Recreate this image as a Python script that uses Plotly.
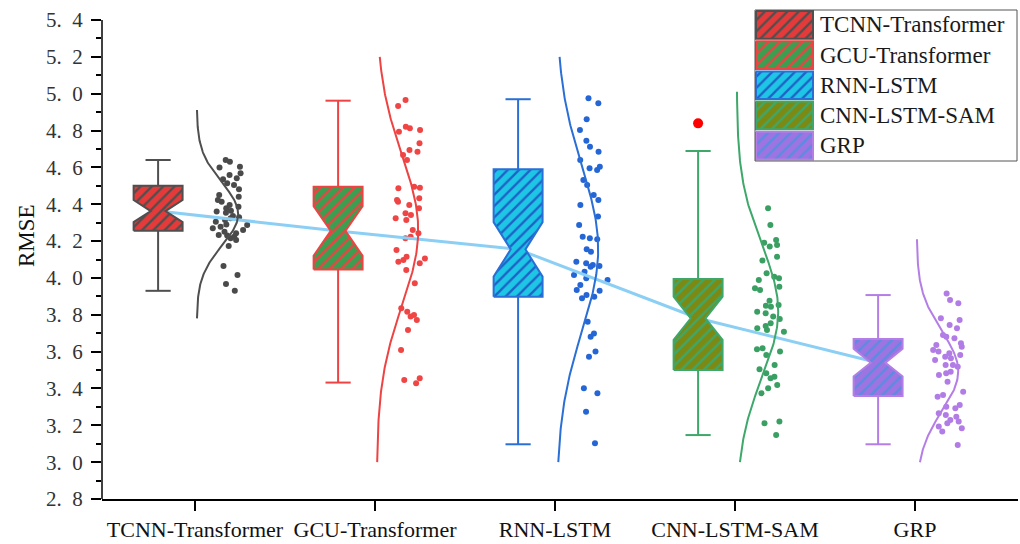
import numpy as np
import plotly.graph_objects as go

# ---------------- data ----------------
models = ["TCNN-Transformer", "GCU-Transformer", "RNN-LSTM", "CNN-LSTM-SAM", "GRP"]
positions = [1, 2, 3, 4, 5]

# box statistics
q1 = [4.256, 4.046, 3.898, 3.500, 3.359]
median = [4.363, 4.255, 4.155, 3.781, 3.540]
q3 = [4.500, 4.495, 4.590, 3.994, 3.668]
lower_whisker = [3.930, 3.432, 3.097, 3.147, 3.097]
upper_whisker = [4.640, 4.962, 4.970, 4.689, 3.907]
notch_half = [0.060, 0.135, 0.148, 0.117, 0.075]
outliers = [[], [], [], [4.839], []]

# individual RMSE samples
tcnn_rmse = [4.640, 4.631, 4.604, 4.600, 4.568, 4.559, 4.541, 4.535, 4.514, 4.504,
             4.481, 4.450, 4.440, 4.423, 4.414, 4.396, 4.387, 4.378, 4.365, 4.360,
             4.354, 4.336, 4.330, 4.324, 4.314, 4.305, 4.290, 4.287, 4.278, 4.269,
             4.260, 4.251, 4.242, 4.233, 4.230, 4.224, 4.215, 4.206, 4.173, 4.065,
             4.016, 3.967, 3.931]
gcu_rmse = [4.966, 4.933, 4.821, 4.812, 4.803, 4.794, 4.731, 4.694, 4.685, 4.667,
            4.640, 4.495, 4.487, 4.490, 4.432, 4.423, 4.414, 4.396, 4.378, 4.351,
            4.342, 4.324, 4.314, 4.260, 4.242, 4.224, 4.215, 4.152, 4.115, 4.106,
            4.097, 4.088, 4.079, 4.043, 3.971, 3.835, 3.817, 3.799, 3.790, 3.772,
            3.717, 3.609, 3.455, 3.446, 3.428]
rnn_rmse = [4.975, 4.948, 4.861, 4.803, 4.745, 4.712, 4.685, 4.640, 4.604, 4.595,
            4.586, 4.532, 4.504, 4.450, 4.423, 4.396, 4.333, 4.287, 4.224, 4.215,
            4.210, 4.155, 4.142, 4.088, 4.079, 4.070, 4.065, 4.061, 4.034, 4.016,
            3.998, 3.989, 3.962, 3.934, 3.930, 3.907, 3.898, 3.889, 3.762, 3.699,
            3.681, 3.600, 3.572, 3.401, 3.374, 3.274, 3.102]
cnn_rmse = [4.839, 4.691, 4.378, 4.287, 4.206, 4.191, 4.179, 4.170, 4.115, 4.094,
            4.025, 4.007, 3.998, 3.989, 3.952, 3.944, 3.934, 3.876, 3.853, 3.849,
            3.844, 3.817, 3.808, 3.790, 3.777, 3.754, 3.739, 3.727, 3.717, 3.708,
            3.618, 3.613, 3.600, 3.582, 3.527, 3.504, 3.482, 3.464, 3.455, 3.419,
            3.401, 3.374, 3.220, 3.211, 3.147]
grp_rmse = [3.916, 3.880, 3.862, 3.781, 3.772, 3.744, 3.727, 3.690, 3.681, 3.672,
            3.645, 3.636, 3.627, 3.609, 3.600, 3.591, 3.582, 3.572, 3.564, 3.555,
            3.527, 3.527, 3.518, 3.491, 3.482, 3.473, 3.437, 3.382, 3.364, 3.355,
            3.310, 3.301, 3.292, 3.265, 3.256, 3.247, 3.229, 3.220, 3.211, 3.193,
            3.184, 3.166, 3.093]
samples = [tcnn_rmse, gcu_rmse, rnn_rmse, cnn_rmse, grp_rmse]

y_tick_values = [2.8, 3.0, 3.2, 3.4, 3.6, 3.8, 4.0, 4.2, 4.4, 4.6, 4.8, 5.0, 5.2, 5.4]
y_tick_labels = ["2. 8", "3. 0", "3. 2", "3. 4", "3. 6", "3. 8", "4. 0", "4. 2",
                 "4. 4", "4. 6", "4. 8", "5. 0", "5. 2", "5. 4"]

# ---------------- styles ----------------
line_colors = ["#4f4f4f", "#ee4343", "#2a6fd6", "#3da86a", "#b47ee6"]
fill_colors = ["#e63a3a", "#3b9e50", "#1ec6e6", "#7c8a14", "#9d74e2"]
hatch_colors = ["#4f4f4f", "#ee4343", "#1f62c6", "#3da86a", "#5a8ce0"]
point_colors = ["#4a4a4a", "#f04545", "#2466d6", "#3a9f62", "#b27ce6"]
FONT = "Liberation Serif"
WIDE_GAP = "\u2002"   # the reference renders a wide gap after the decimal point

BOX_OFF = -0.205     # box centre relative to category
BOX_HW = 0.136       # box half-width
CAP_HW = 0.07        # whisker cap half-width
NOTCH_IN = 0.70      # inset of notch relative to half-width
CURVE_OFF = 0.01
CURVE_AMP = 0.23
CURVE_SD_SPAN = 3.3
PTS_OFF = 0.20

fig = go.Figure()

# median connecting line (drawn beneath the boxes)
fig.add_trace(go.Scatter(
    x=[p + BOX_OFF for p in positions], y=median, mode="lines",
    line=dict(color="#8ccff5", width=3), showlegend=False, hoverinfo="skip"))

for i, p in enumerate(positions):
    c = p + BOX_OFF
    L, R = c - BOX_HW, c + BOX_HW
    ins = BOX_HW * NOTCH_IN
    nlo, nhi = median[i] - notch_half[i], median[i] + notch_half[i]
    # whiskers
    wx = [c, c, None, c, c, None, c - CAP_HW, c + CAP_HW, None, c - CAP_HW, c + CAP_HW]
    wy = [q3[i], upper_whisker[i], None, q1[i], lower_whisker[i], None,
          upper_whisker[i], upper_whisker[i], None, lower_whisker[i], lower_whisker[i]]
    fig.add_trace(go.Scatter(x=wx, y=wy, mode="lines",
                             line=dict(color=line_colors[i], width=2),
                             showlegend=False, hoverinfo="skip"))
    # notched hatched box
    bx = [L, L, L + ins, L, L, R, R, R - ins, R, R, L]
    by = [q1[i], nlo, median[i], nhi, q3[i], q3[i], nhi, median[i], nlo, q1[i], q1[i]]
    fig.add_trace(go.Scatter(
        x=bx, y=by, mode="lines", fill="toself", fillcolor=fill_colors[i],
        fillpattern=dict(shape="/", fgcolor=hatch_colors[i], bgcolor=fill_colors[i],
                         size=8, solidity=0.3, fillmode="replace"),
        line=dict(color=line_colors[i], width=2), showlegend=False, hoverinfo="skip"))
    # outliers
    if outliers[i]:
        fig.add_trace(go.Scatter(x=[c] * len(outliers[i]), y=outliers[i], mode="markers",
                                 marker=dict(color="#ff0000", size=10),
                                 showlegend=False, hoverinfo="skip"))
    # normal distribution curve fitted to the samples
    arr = np.array(samples[i])
    m, s = arr.mean(), arr.std(ddof=1)
    lo, hi = max(m - CURVE_SD_SPAN * s, 3.0), min(m + CURVE_SD_SPAN * s, 5.2)
    ys = np.linspace(lo, hi, 200)
    xs = p + CURVE_OFF + CURVE_AMP * np.exp(-0.5 * ((ys - m) / s) ** 2)
    fig.add_trace(go.Scatter(x=xs, y=ys, mode="lines",
                             line=dict(color=line_colors[i], width=2),
                             showlegend=False, hoverinfo="skip"))
    # jittered points
    fig.add_trace(go.Box(
        x=[p + PTS_OFF] * len(samples[i]), y=samples[i], boxpoints="all", jitter=1,
        pointpos=0, width=0.22, whiskerwidth=0, fillcolor="rgba(0,0,0,0)",
        line=dict(color="rgba(0,0,0,0)", width=0),
        marker=dict(color=point_colors[i], size=6), showlegend=False, hoverinfo="skip"))

# ---------------- custom legend (overlay axes in pixel units) ----------------
LEG_W, LEG_H = 263, 151
fig.add_trace(go.Scatter(x=[0, LEG_W, LEG_W, 0, 0], y=[0, 0, LEG_H, LEG_H, 0],
                         fill="toself", fillcolor="white", mode="none",
                         xaxis="x2", yaxis="y2", showlegend=False, hoverinfo="skip"))
row_h = LEG_H / 5
for i, name in enumerate(models):
    y0, y1 = row_h * i + 1, row_h * (i + 1) - 1.5
    fig.add_trace(go.Scatter(
        x=[1, 58, 58, 1, 1], y=[y0, y0, y1, y1, y0], mode="lines", fill="toself",
        fillcolor=fill_colors[i],
        fillpattern=dict(shape="/", fgcolor=hatch_colors[i], bgcolor=fill_colors[i],
                         size=8, solidity=0.3, fillmode="replace"),
        line=dict(color=line_colors[i], width=2), xaxis="x2", yaxis="y2",
        showlegend=False, hoverinfo="skip"))
    fig.add_annotation(x=63, y=(y0 + y1) / 2, xref="x2", yref="y2", text=name,
                       showarrow=False, xanchor="left", yanchor="middle",
                       font=dict(family=FONT, size=23, color="#1a1a1a"))

# ---------------- layout ----------------
ML, MR, MT, MB = 102, 2, 10, 45
W, H = 1020, 544
pw, ph = W - ML - MR, H - MT - MB
px_per_unit_y = 36.846 / 0.2
y_top = 5.4 + (20 - MT) / px_per_unit_y
x_left = 1 - (195 - ML) / 180
x_right = x_left + pw / 180

fig.update_layout(
    width=W, height=H, margin=dict(l=ML, r=MR, t=MT, b=MB),
    paper_bgcolor="white", plot_bgcolor="white", showlegend=False,
    font=dict(family=FONT, color="#222"),
    xaxis=dict(range=[x_left, x_right], tickvals=positions, ticktext=models,
               showline=True, linecolor="black", linewidth=1.5, ticks="outside",
               ticklen=10, tickwidth=1.5, tickcolor="black", showgrid=False,
               zeroline=False, tickfont=dict(family=FONT, size=22, color="#111")),
    yaxis=dict(range=[2.8, y_top], tickvals=y_tick_values,
               ticktext=[t.replace(" ", WIDE_GAP) for t in y_tick_labels],
               showline=False, ticks="outside", ticklen=10, tickwidth=1.5,
               tickcolor="black", showgrid=False, zeroline=False,
               ticklabelstandoff=4,
               minor=dict(dtick=0.1, tick0=2.8, ticks="outside", ticklen=5,
                          tickwidth=1.5, tickcolor="black"),
               tickfont=dict(family=FONT, size=21, color="#333")),
    xaxis2=dict(domain=[(755 - ML) / pw, 1.0], range=[0, LEG_W], visible=False,
                anchor="y2", fixedrange=True),
    yaxis2=dict(domain=[(H - MB - 161) / ph, 1.0], range=[LEG_H, 0], visible=False,
                anchor="x2", fixedrange=True),
)

# y axis line between 2.8 and 5.4
fig.add_shape(type="line", xref="paper", yref="y", x0=0, x1=0, y0=2.8, y1=5.4,
              line=dict(color="black", width=1.5))
# legend border
fig.add_shape(type="rect", xref="paper", yref="paper",
              x0=(755 - ML) / pw, x1=(1017 - ML) / pw,
              y0=(H - MB - 161) / ph, y1=1.0, line=dict(color="#555", width=1),
              layer="above")
# y axis title
fig.add_annotation(text="RMSE", xref="paper", yref="paper",
                   x=(27 - ML) / pw, y=(H - MB - 236) / ph, textangle=-90,
                   xanchor="center", yanchor="middle",
                   showarrow=False, font=dict(family=FONT, size=23, color="#111"))

# remove the default page margin so the figure sits at the window origin
fig.write_html("out.html", config={"displayModeBar": False},
               post_script="document.body.style.margin='0';")
